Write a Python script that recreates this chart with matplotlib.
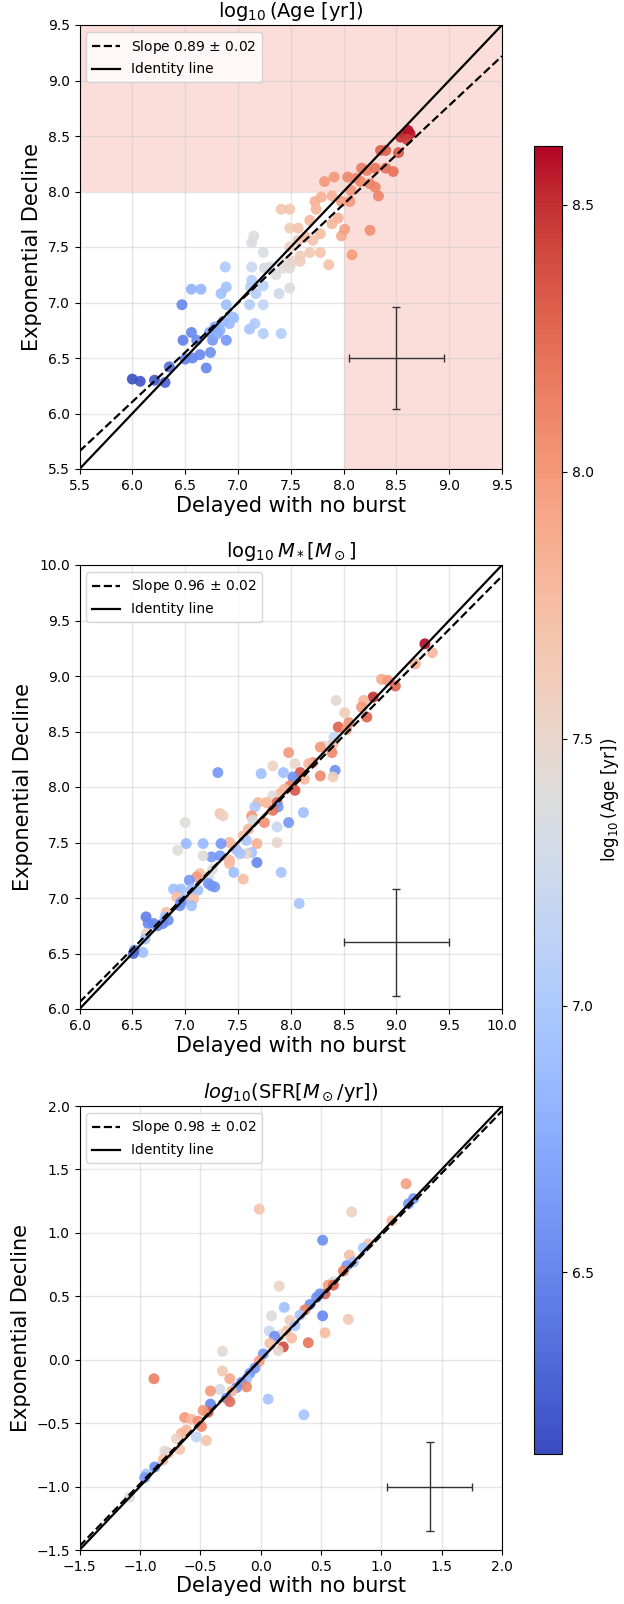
import numpy as np
import matplotlib
matplotlib.use("Agg")
import matplotlib.pyplot as plt
from matplotlib.colors import Normalize

# ---- age panel (x: delayed no burst, y: exponential decline, c: log age) ----
age_x = [6.00, 6.075, 6.21, 6.31, 6.35, 6.47, 6.48, 6.56, 6.50, 6.57, 6.64, 6.61, 6.56, 6.65,
         6.70, 6.74, 6.76, 6.73, 6.83, 6.84, 6.89, 6.88, 6.89, 6.89, 6.86, 6.92, 6.95, 6.96,
         6.78, 6.81, 7.11, 7.16, 7.24, 7.41, 7.11, 7.24, 7.12, 7.17, 7.24, 7.13, 7.13, 7.13,
         7.15, 7.24, 7.25, 7.30, 7.36, 7.39, 7.49, 7.43, 7.49, 7.46, 7.52, 7.49, 7.59, 7.59,
         7.57, 7.68, 7.71, 7.78, 7.78, 7.86, 7.41, 7.49, 7.49, 7.57, 7.64, 7.68, 7.73, 7.79,
         7.74, 7.82, 7.91, 7.89, 7.95, 7.98, 7.89, 8.01, 8.08, 7.98, 8.06, 8.07, 8.04, 8.12,
         8.17, 8.16, 8.25, 8.30, 8.33, 8.25, 8.22, 8.30, 8.40, 8.47, 8.35, 8.40, 8.52, 8.54,
         8.58, 8.61, 8.63, 8.60]
age_y = [6.31, 6.29, 6.30, 6.28, 6.42, 6.98, 6.66, 6.73, 6.49, 6.50, 6.53, 6.66, 7.12, 7.12,
         6.41, 6.55, 6.66, 6.73, 6.75, 7.08, 7.14, 7.32, 6.98, 6.66, 6.83, 6.81, 6.87, 6.86,
         6.78, 6.72, 6.76, 6.81, 6.72, 6.72, 6.98, 6.98, 7.14, 7.08, 7.15, 7.20, 7.32, 7.54,
         7.60, 7.45, 7.31, 7.32, 7.25, 7.08, 7.13, 7.31, 7.31, 7.36, 7.37, 7.50, 7.37, 7.42,
         7.56, 7.45, 7.56, 7.62, 7.45, 7.34, 7.84, 7.84, 7.67, 7.67, 7.59, 7.74, 7.91, 7.95,
         7.84, 8.09, 8.13, 7.96, 7.76, 7.60, 7.71, 7.66, 7.43, 7.91, 7.91, 8.01, 8.13, 8.12,
         8.21, 8.09, 8.07, 8.04, 7.96, 7.65, 8.19, 8.21, 8.21, 8.18, 8.37, 8.37, 8.35, 8.49,
         8.51, 8.55, 8.52, 8.47]
age_c = [6.17, 6.2, 6.22, 6.28, 6.35, 6.5, 6.45, 6.5, 6.45, 6.48, 6.5, 6.52, 6.8, 6.82,
         6.5, 6.55, 6.6, 6.7, 6.8, 6.9, 6.92, 7.0, 6.9, 6.6, 6.85, 6.85, 6.9, 6.9,
         6.75, 6.75, 6.95, 7.0, 7.05, 7.05, 7.05, 7.15, 7.05, 7.05, 7.1, 7.05, 7.2, 7.35,
         7.38, 7.35, 7.3, 7.35, 7.4, 7.25, 7.35, 7.4, 7.42, 7.45, 7.5, 7.55, 7.58, 7.6,
         7.65, 7.65, 7.7, 7.75, 7.7, 7.72, 7.68, 7.7, 7.62, 7.7, 7.75, 7.8, 7.85, 7.85,
         7.82, 8.0, 8.0, 7.85, 7.85, 7.9, 7.8, 7.95, 7.98, 7.98, 8.0, 8.02, 8.1, 8.1,
         8.15, 8.1, 8.12, 8.12, 8.12, 8.05, 8.15, 8.2, 8.22, 8.22, 8.3, 8.32, 8.35, 8.5,
         8.52, 8.6, 8.58, 8.45]

# ---- stellar mass panel ----
mass_x = [9.27, 9.34, 9.18, 8.86, 8.92, 8.99, 8.78, 8.69, 8.67, 8.72, 8.43, 8.51, 8.45, 8.55,
          8.53, 8.40, 8.41, 8.32, 8.39, 8.28, 8.42, 8.40, 8.28, 8.21, 8.17, 7.98, 8.04, 7.83,
          8.09, 8.13, 8.02, 7.93, 7.72, 7.31, 7.99, 7.94, 8.04, 7.90, 7.83, 7.87, 7.77, 7.88,
          7.83, 7.69, 7.66, 7.63, 7.64, 7.75, 7.98, 8.12, 7.87, 7.33, 7.36, 7.60, 7.55, 7.58,
          7.68, 7.87, 7.42, 7.47, 7.49, 7.63, 7.58, 7.52, 7.42, 7.42, 7.46, 7.68, 7.91, 7.55,
          7.34, 7.33, 7.25, 7.26, 7.17, 7.01, 6.93, 7.00, 7.17, 7.14, 7.11, 7.22, 7.25, 7.22,
          7.28, 7.04, 7.06, 6.96, 6.89, 7.12, 6.92, 7.00, 7.08, 7.06, 6.95, 6.96, 6.82, 6.81,
          6.84, 6.74, 6.79, 6.70, 6.63, 6.65, 6.63, 6.62, 6.60, 6.52, 6.51, 8.08]
mass_y = [9.29, 9.21, 9.11, 8.97, 8.96, 8.91, 8.81, 8.78, 8.72, 8.63, 8.78, 8.67, 8.54, 8.58,
          8.52, 8.39, 8.45, 8.37, 8.31, 8.36, 8.15, 8.09, 8.10, 8.22, 8.21, 8.31, 8.21, 8.19,
          8.13, 8.07, 8.09, 8.13, 8.12, 8.13, 8.01, 7.98, 7.97, 7.94, 7.92, 7.86, 7.86, 7.82,
          7.79, 7.86, 7.82, 7.74, 7.70, 7.68, 7.68, 7.77, 7.64, 7.76, 7.74, 7.62, 7.56, 7.52,
          7.49, 7.50, 7.50, 7.46, 7.43, 7.41, 7.40, 7.40, 7.34, 7.31, 7.23, 7.32, 7.23, 7.17,
          7.49, 7.38, 7.37, 7.26, 7.49, 7.49, 7.43, 7.68, 7.38, 7.22, 7.19, 7.19, 7.11, 7.13,
          7.10, 7.16, 7.08, 7.08, 7.08, 7.07, 7.01, 6.99, 6.99, 6.93, 6.93, 6.96, 6.87, 6.83,
          6.80, 6.75, 6.77, 6.77, 6.83, 6.77, 6.68, 6.63, 6.51, 6.53, 6.50, 6.95]
mass_c = [8.6, 7.8, 7.85, 7.9, 8.0, 8.3, 8.5, 7.8, 8.0, 8.3, 7.45, 7.6, 8.3, 8.05,
          8.0, 7.8, 7.2, 7.35, 8.1, 8.0, 6.55, 7.6, 8.1, 8.05, 7.8, 8.0, 7.5, 7.55,
          8.35, 7.8, 6.55, 6.9, 6.9, 6.6, 8.15, 7.8, 8.35, 7.8, 7.4, 8.3, 7.8, 6.6,
          8.2, 7.8, 7.0, 8.0, 7.35, 8.05, 6.6, 6.9, 7.2, 7.7, 7.55, 7.8, 7.75, 6.95,
          7.85, 7.5, 7.8, 7.8, 6.95, 6.95, 7.5, 6.95, 7.8, 7.75, 6.9, 6.5, 6.95, 7.75,
          6.6, 6.6, 6.6, 7.35, 6.85, 6.85, 7.4, 7.4, 7.4, 7.75, 8.0, 7.35, 6.6, 6.6,
          6.6, 6.6, 6.9, 6.9, 6.9, 6.9, 7.75, 6.9, 7.75, 6.9, 6.55, 6.55, 7.75, 6.9,
          6.55, 6.5, 6.5, 6.5, 6.45, 6.5, 7.55, 6.95, 6.9, 6.5, 6.3, 6.95]

# ---- SFR panel ----
sfr_x = [1.206, 1.225, 1.267, -0.011, 0.755, 1.087, 0.514, 0.893, 0.852, 0.736, 0.769, 0.714,
         0.686, 0.603, 0.561, 0.603, 0.534, 0.492, 0.464, 0.155, 0.409, 0.368, 0.326, 0.196,
         0.514, 0.727, 0.091, 0.243, 0.285, 0.534, 0.072, 0.216, 0.174, 0.257, 0.116, 0.395,
         0.188, 0.146, 0.077, 0.022, -0.011, -0.316, -0.047, -0.089, -0.116, -0.158, -0.316,
         -0.116, -0.199, -0.238, -0.283, -0.255, -0.338, -0.415, -0.255, 0.063, 0.359, -0.415,
         -0.435, -0.476, -0.883, -0.628, -0.573, -0.518, -0.490, -0.615, -0.532, -0.449,
         -0.656, -0.698, -0.670, -0.767, -0.794, -0.808, -0.877, -0.947, -0.960, -1.085]
sfr_y = [1.387, 1.229, 1.27, 1.187, 1.165, 1.095, 0.942, 0.914, 0.881, 0.825, 0.769, 0.741,
         0.699, 0.616, 0.588, 0.588, 0.519, 0.519, 0.491, 0.580, 0.435, 0.393, 0.351, 0.413,
         0.346, 0.318, 0.346, 0.310, 0.268, 0.212, 0.226, 0.226, 0.198, 0.170, 0.184, 0.134,
         0.101, 0.073, 0.129, 0.045, -0.011, 0.067, -0.066, -0.108, -0.150, -0.178, -0.089,
         -0.214, -0.220, -0.247, -0.303, -0.331, -0.233, -0.247, -0.150, -0.311, -0.434, -0.350,
         -0.414, -0.400, -0.150, -0.456, -0.470, -0.484, -0.526, -0.554, -0.609, -0.637,
         -0.581, -0.623, -0.707, -0.735, -0.721, -0.790, -0.846, -0.902, -0.930, -1.083]
sfr_c = [7.95, 6.6, 6.6, 7.7, 7.55, 7.8, 6.55, 7.7, 6.95, 7.75, 6.9, 6.6,
         8.15, 7.35, 8.0, 8.3, 8.3, 6.55, 6.55, 7.55, 6.55, 8.15, 6.95, 6.9,
         6.5, 7.65, 7.4, 7.6, 6.95, 7.75, 7.2, 7.75, 7.5, 7.75, 6.55, 8.2,
         8.4, 7.5, 7.75, 6.6, 8.0, 7.45, 6.6, 6.6, 6.9, 6.6, 7.65,
         8.1, 6.55, 7.8, 6.55, 8.25, 7.3, 8.0, 7.9, 6.95, 6.95, 6.5,
         8.35, 8.0, 8.15, 8.0, 7.8, 8.05, 8.1, 7.8, 7.15, 7.7,
         7.8, 7.55, 7.7, 7.95, 7.4, 7.75, 6.55, 6.9, 6.6, 7.4]

panels = [
    dict(x=age_x, y=age_y, c=age_c, lim=(5.5, 9.5), slope=0.89, icpt=0.765,
         title=r'$\log_{10}$(Age [yr])', err=(8.5, 6.5, 0.45, 0.46), ticks=np.arange(5.5, 9.51, 0.5)),
    dict(x=mass_x, y=mass_y, c=mass_c, lim=(6.0, 10.0), slope=0.96, icpt=0.30,
         title=r'$\log_{10} M_*[M_\odot]$', err=(9.0, 6.6, 0.5, 0.48), ticks=np.arange(6.0, 10.01, 0.5)),
    dict(x=sfr_x, y=sfr_y, c=sfr_c, lim=(-1.5, 2.0), slope=0.98, icpt=0.0,
         title=r'$log_{10}$(SFR[$M_\odot$/yr])', err=(1.4, -1.0, 0.35, 0.35), ticks=np.arange(-1.5, 2.01, 0.5)),
]

W, H = 624, 1604
fig = plt.figure(figsize=(W / 100, H / 100), dpi=100)
norm = Normalize(vmin=6.16, vmax=8.61)
cmap = plt.get_cmap('coolwarm')

tops = [25, 565, 1106]
ax_w, ax_h, ax_l = 422.5, 444, 79.5

for p, top in zip(panels, tops):
    ax = fig.add_axes([ax_l / W, (H - top - ax_h) / H, ax_w / W, ax_h / H])
    lo, hi = p['lim']
    if p is panels[0]:
        # shaded region: age above 1e8 yr in either model
        frac = (8.0 - lo) / (hi - lo)
        ax.axhspan(8.0, hi, color='#f9c9c2', alpha=0.6, lw=0, zorder=0)
        ax.axvspan(8.0, hi, ymin=0, ymax=frac, color='#f9c9c2', alpha=0.6, lw=0, zorder=0)
    ax.grid(True, color='#cccccc', lw=1, alpha=0.5, zorder=0)
    ax.scatter(p['x'], p['y'], c=p['c'], cmap=cmap, norm=norm, s=62, lw=0, alpha=0.9, zorder=2)
    xx = np.array([lo, hi])
    ax.plot(xx, p['slope'] * xx + p['icpt'], 'k--', lw=1.6, zorder=3,
            label='Slope %.2f $\\pm$ 0.02' % p['slope'])
    ax.plot(xx, xx, 'k-', lw=1.6, zorder=3, label='Identity line')
    ex, ey, dx, dy = p['err']
    ax.errorbar([ex], [ey], xerr=[dx], yerr=[dy], fmt='none', ecolor='#333333', elinewidth=1,
                capsize=3, zorder=4)
    ax.set_xlim(lo, hi)
    ax.set_ylim(lo, hi)
    ax.set_xticks(p['ticks'])
    ax.set_yticks(p['ticks'])
    ax.tick_params(labelsize=10)
    ax.set_title(p['title'], fontsize=14)
    ax.set_xlabel('Delayed with no burst', fontsize=15, labelpad=2)
    ax.set_ylabel('Exponential Decline', fontsize=15)
    ax.legend(loc='upper left', fontsize=10)
    ax.set_axisbelow(True)

cax = fig.add_axes([534 / W, (H - 1454) / H, 28 / W, 1308 / H])
sm = plt.cm.ScalarMappable(norm=norm, cmap=cmap)
cb = fig.colorbar(sm, cax=cax, ticks=[6.5, 7.0, 7.5, 8.0, 8.5])
cb.set_label(r'$\log_{10}$(Age [yr])', fontsize=12)
cb.ax.tick_params(labelsize=10)

fig.savefig('out.png', dpi=100)
